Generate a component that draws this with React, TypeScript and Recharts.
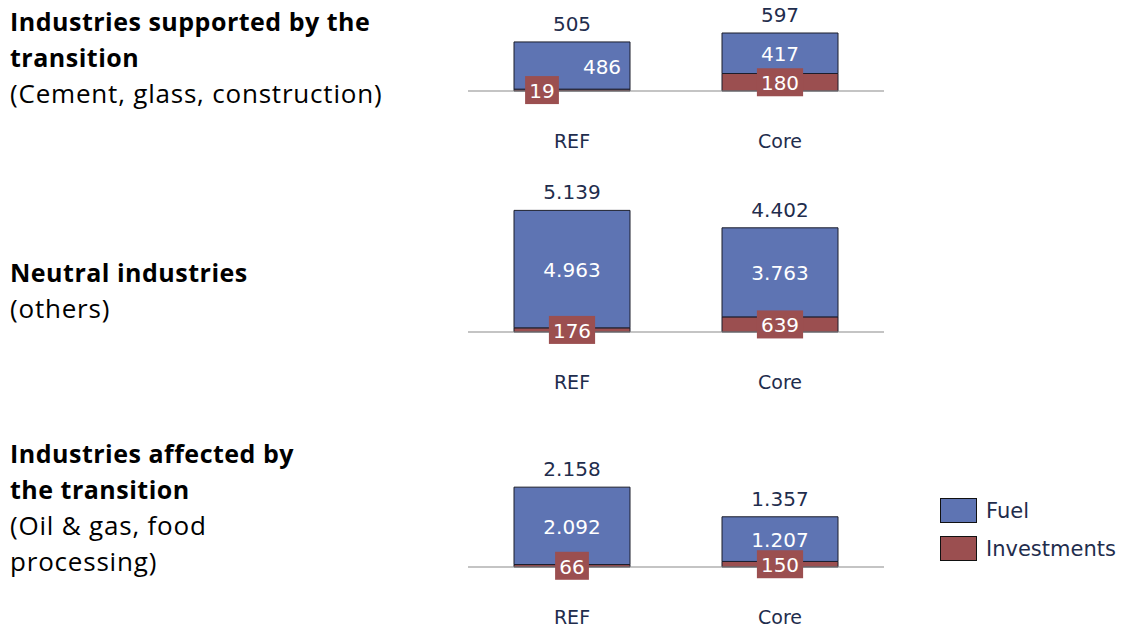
import React from 'react';
import { Bar, BarChart, LabelList, XAxis, YAxis } from 'recharts';

// Fuel vs. investment costs per industry group, REF and Core scenarios
const categories = ['REF', 'Core'];

const supportedFuel = [486, 417];
const supportedInvest = [19, 180];

const neutralFuel = [4963, 3763];
const neutralInvest = [176, 639];

const affectedFuel = [2092, 1207];
const affectedInvest = [66, 150];

const FUEL = '#5E74B3';
const INVEST = '#9B4F50';
const EDGE = '#1B1D2B';
const AXIS = '#8A8A8A';
const NAVY = '#1F2D4D';
const NUM_FONT = '"DejaVu Sans", Verdana, sans-serif';
const TITLE_FONT = '"Open Sans", "Noto Sans", sans-serif';

type Row = { cat: string; fuel: number; inv: number; total: number };

function buildRows(fuel: number[], inv: number[]): Row[] {
  return categories.map((cat, i) => ({
    cat,
    fuel: fuel[i],
    inv: inv[i],
    total: fuel[i] + inv[i],
  }));
}

// 5139 -> "5.139"
function fmt(v: number): string {
  return String(v).replace(/\B(?=(\d{3})+(?!\d))/g, '.');
}

type PanelProps = {
  rows: Row[];
  max: number;
  top: number;
  plotHeight: number;
  // horizontal label nudges per category, used where labels would collide
  fuelShift?: number[];
  invShift?: number[];
};

function Panel({ rows, max, top, plotHeight, fuelShift = [0, 0], invShift = [0, 0] }: PanelProps) {
  const marginTop = 22;
  const axisH = 60;
  const height = marginTop + plotHeight + axisH + 4;

  const renderLabels = (p: any) => {
    const { x, y, width, height: h, index } = p;
    const row = rows[index];
    const cx = x + width / 2;
    const base = y + h;
    const invH = (row.inv * h) / row.fuel;
    const invCy = base + invH / 2;
    const invText = fmt(row.inv);
    const boxW = invText.length * 12.4 + 9;
    return (
      <g>
        <text
          x={cx}
          y={y - 18}
          textAnchor="middle"
          dominantBaseline="central"
          fill={NAVY}
          fontSize={20}
          fontFamily={NUM_FONT}
        >
          {fmt(row.total)}
        </text>
        <text
          x={cx + fuelShift[index]}
          y={y + h / 2 + 1}
          textAnchor="middle"
          dominantBaseline="central"
          fill="#FFFFFF"
          fontSize={20}
          fontFamily={NUM_FONT}
        >
          {fmt(row.fuel)}
        </text>
        <rect
          x={cx + invShift[index] - boxW / 2}
          y={invCy - 14}
          width={boxW}
          height={28}
          fill={INVEST}
        />
        <text
          x={cx + invShift[index]}
          y={invCy + 1}
          textAnchor="middle"
          dominantBaseline="central"
          fill="#FFFFFF"
          fontSize={20}
          fontFamily={NUM_FONT}
        >
          {invText}
        </text>
      </g>
    );
  };

  const renderTick = (p: any) => (
    <text
      x={p.x}
      y={p.y}
      dy={50}
      textAnchor="middle"
      dominantBaseline="central"
      fill={NAVY}
      fontSize={19}
      fontFamily={NUM_FONT}
    >
      {p.payload.value}
    </text>
  );

  return (
    <div style={{ position: 'absolute', left: 468, top: top - marginTop }}>
      <BarChart
        width={416}
        height={height}
        data={rows}
        margin={{ top: marginTop, right: 0, left: 0, bottom: 4 }}
      >
        <XAxis
          dataKey="cat"
          height={axisH}
          axisLine={{ stroke: AXIS, strokeWidth: 1.2 }}
          tickLine={false}
          tickSize={0}
          tickMargin={0}
          tick={renderTick}
          interval={0}
        />
        <YAxis hide domain={[0, max]} />
        <Bar dataKey="inv" stackId="s" fill={INVEST} stroke={EDGE} strokeWidth={1} barSize={116} isAnimationActive={false} />
        <Bar dataKey="fuel" stackId="s" fill={FUEL} stroke={EDGE} strokeWidth={1} barSize={116} isAnimationActive={false}>
          <LabelList dataKey="fuel" content={renderLabels} />
        </Bar>
      </BarChart>
    </div>
  );
}

function Title({ top, bold, plain }: { top: number; bold: string[]; plain: string[] }) {
  return (
    <div
      style={{
        position: 'absolute',
        left: 10,
        top,
        fontFamily: TITLE_FONT,
        lineHeight: '36px',
        color: '#000',
        whiteSpace: 'nowrap',
      }}
    >
      {bold.map((t) => (
        <div key={t} style={{ fontWeight: 700, fontSize: 25, letterSpacing: 0.5 }}>{t}</div>
      ))}
      {plain.map((t) => (
        <div key={t} style={{ fontSize: 26, letterSpacing: 0.8 }}>{t}</div>
      ))}
    </div>
  );
}

function LegendItem({ top, color, label }: { top: number; color: string; label: string }) {
  return (
    <div style={{ position: 'absolute', left: 940, top, display: 'flex', alignItems: 'center' }}>
      <div style={{ width: 35, height: 23, background: color, border: '1.5px solid #111' }} />
      <span style={{ marginLeft: 9, fontFamily: NUM_FONT, fontSize: 21, color: NAVY }}>{label}</span>
    </div>
  );
}

export default function App() {
  return (
    <div style={{ position: 'absolute', left: 0, top: 0, width: 1122, height: 630, background: '#fff' }}>
      <Title top={3} bold={['Industries supported by the', 'transition']} plain={['(Cement, glass, construction)']} />
      <Title top={254} bold={['Neutral industries']} plain={['(others)']} />
      <Title top={435} bold={['Industries affected by', 'the transition']} plain={['(Oil & gas, food', 'processing)']} />

      <Panel rows={buildRows(supportedFuel, supportedInvest)} max={700} top={23} plotHeight={68} fuelShift={[30, 0]} invShift={[-30, 0]} />
      <Panel rows={buildRows(neutralFuel, neutralInvest)} max={6000} top={190} plotHeight={142} />
      <Panel rows={buildRows(affectedFuel, affectedInvest)} max={3000} top={456} plotHeight={111} />

      <LegendItem top={498} color={FUEL} label="Fuel" />
      <LegendItem top={536} color={INVEST} label="Investments" />
    </div>
  );
}
